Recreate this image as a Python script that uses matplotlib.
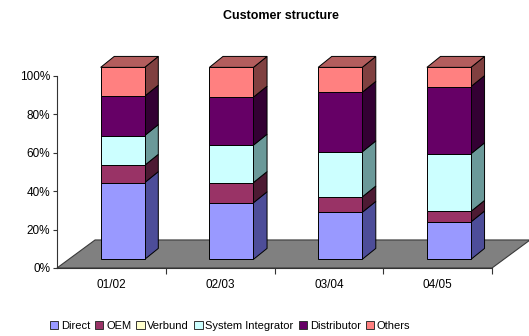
#!/usr/bin/env python3
# -*- coding: utf-8 -*-
import numpy as np
import matplotlib
matplotlib.use('Agg')
import matplotlib.pyplot as plt
from matplotlib.patches import Polygon, Patch

#!----------------------------------------------------------------------
#!	DATA
#!----------------------------------------------------------------------
years = ['01/02', '02/03', '03/04', '04/05']
segments = ['Direct', 'OEM', 'Verbund', 'System Integrator', 'Distributor', 'Others']

direct = [40.0, 29.5, 24.5, 19.5]
oem = [9.0, 10.5, 8.0, 5.5]
verbund = [0.0, 0.0, 0.0, 0.0]
system_integrator = [15.5, 19.5, 23.5, 30.0]
distributor = [20.5, 25.0, 31.0, 35.0]
others = [15.0, 15.5, 13.0, 10.0]

yticks = [0, 20, 40, 60, 80, 100]

# front / side / top colours of each segment (excel-like 3d shading)
front_cols = ['#9999ff', '#993366', '#ffffcc', '#ccffff', '#660066', '#ff8080']
side_cols = ['#4d4d99', '#4d1a33', '#99997a', '#6b9999', '#330033', '#804040']
top_cols = ['#7a7acc', '#7a2952', '#cccca3', '#a3cccc', '#520052', '#b35d5d']


def main():
	series = [direct, oem, verbund, system_integrator, distributor, others]

	# oblique depth offsets in data units (x in categories, y in percent)
	front_dx, front_dy = 0.104, 4.5
	bar_dx, bar_dy = 0.125, 5.7
	floor_dx, floor_dy = 0.35, 14.6
	bar_w = 0.405

#!----------------------------------------------------------------------
#!	PLOT
#!----------------------------------------------------------------------
	plt.rcParams['font.family'] = ['Liberation Sans', 'DejaVu Sans']
	fig = plt.figure(figsize=(5.29, 3.36), dpi=100)
	fig.patch.set_facecolor('white')
	ax = fig.add_axes([57/529, (336-268)/336, 435/529, 192/336])
	ax.set_xlim(0, 4)
	ax.set_ylim(0, 100)
	ax.patch.set_alpha(0)

	# floor
	floor = Polygon([(0, 0), (4, 0), (4+floor_dx, floor_dy), (floor_dx, floor_dy)],
			closed=True, fc='#808080', ec='#3a3a3a', lw=0.8, clip_on=False, zorder=1)
	ax.add_patch(floor)

	for i in range(len(years)):
		x0 = i + 0.5 - bar_w/2 + front_dx
		x1 = x0 + bar_w
		base = front_dy
		bottom = 0.0
		for k, vals in enumerate(series):
			h = vals[i]
			if h <= 0:
				continue
			y0 = base + bottom
			y1 = y0 + h
			front = Polygon([(x0, y0), (x1, y0), (x1, y1), (x0, y1)], closed=True,
					fc=front_cols[k], ec='black', lw=0.7, clip_on=False, zorder=3)
			side = Polygon([(x1, y0), (x1+bar_dx, y0+bar_dy), (x1+bar_dx, y1+bar_dy), (x1, y1)],
					closed=True, fc=side_cols[k], ec='black', lw=0.7, clip_on=False, zorder=2)
			ax.add_patch(front)
			ax.add_patch(side)
			bottom += h
		# top face takes the colour of the last segment
		ytop = base + bottom
		top = Polygon([(x0, ytop), (x1, ytop), (x1+bar_dx, ytop+bar_dy), (x0+bar_dx, ytop+bar_dy)],
				closed=True, fc=top_cols[-1], ec='black', lw=0.7, clip_on=False, zorder=3)
		ax.add_patch(top)

	for s in ['top', 'right']:
		ax.spines[s].set_visible(False)
	ax.spines['left'].set_color('#333333')
	ax.spines['bottom'].set_color('#333333')
	ax.spines['left'].set_linewidth(0.8)
	ax.spines['bottom'].set_linewidth(0.8)

	ax.set_yticks(yticks)
	ax.set_yticklabels(['%d%%' % v for v in yticks], fontsize=8.5)
	ax.tick_params(axis='y', length=3, width=0.8, pad=2, color='#333333')

	ax.set_xticks([1, 2, 3, 4])
	ax.set_xticklabels([])
	ax.tick_params(axis='x', which='major', length=4, width=0.8, color='#333333')
	ax.set_xticks(np.arange(len(years)) + 0.5, minor=True)
	ax.set_xticklabels(years, minor=True, fontsize=8.5)
	ax.tick_params(axis='x', which='minor', length=0, pad=8)

	fig.text(281/529, 1 - 16/336, 'Customer structure', ha='center', va='center',
			fontsize=9, fontweight='bold')

	handles = [Patch(fc=front_cols[k], ec='#333333', lw=0.7) for k in range(len(segments))]
	fig.legend(handles, segments, loc='center', bbox_to_anchor=(230/529, 1 - 326/336),
			ncol=6, frameon=False, fontsize=8, handlelength=0.75, handleheight=0.75,
			handletextpad=0.25, columnspacing=0.45, borderpad=0)

	plt.savefig('out.png', dpi=100)


if __name__ == "__main__":
	main()
